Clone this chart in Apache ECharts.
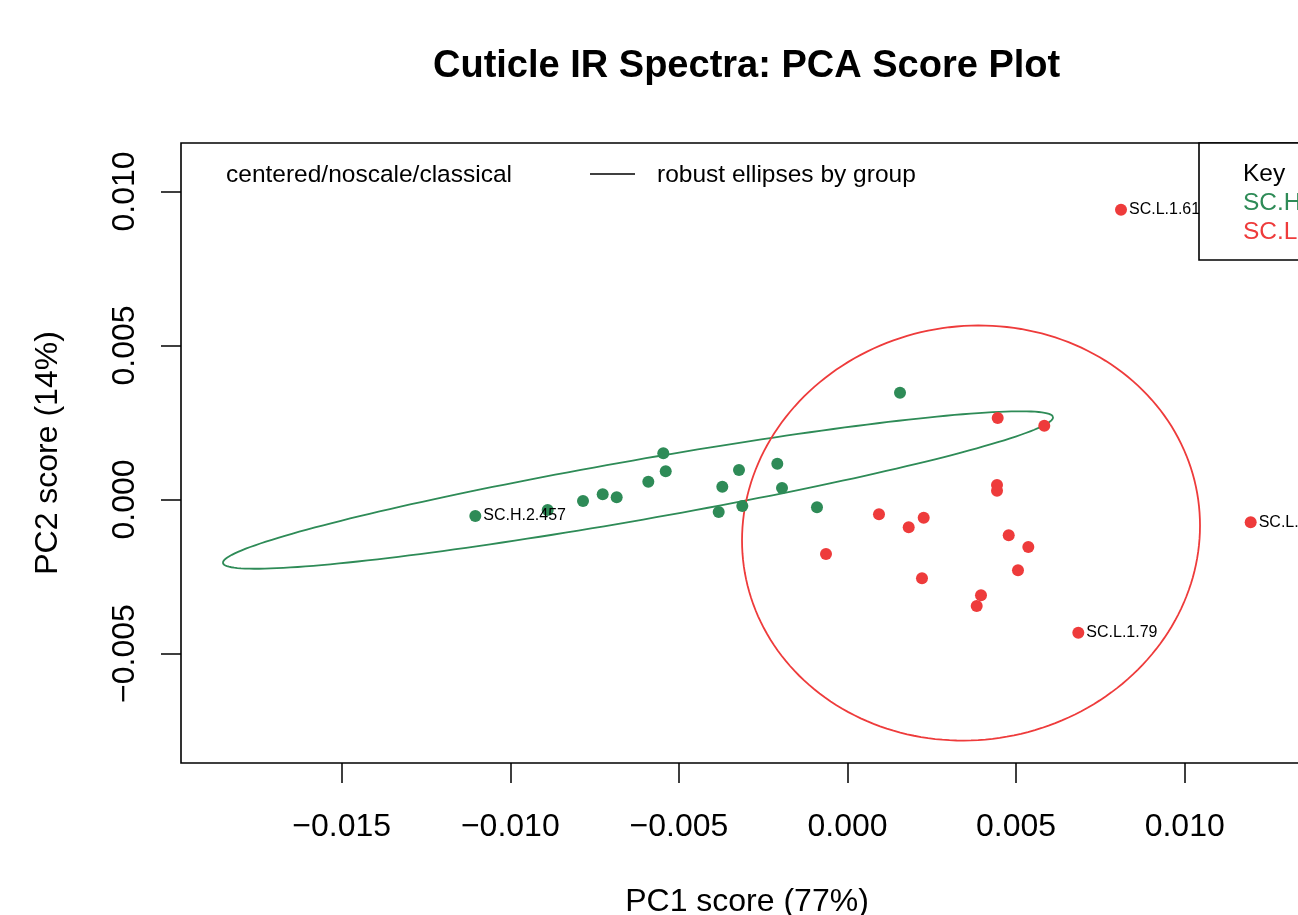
<!DOCTYPE html>
<html>
<head>
<meta charset="utf-8">
<title>Cuticle IR Spectra: PCA Score Plot</title>
<script src="https://cdn.jsdelivr.net/npm/echarts@6/dist/echarts.min.js"></script>
<style>
  html, body { margin: 0; padding: 0; background: #fff; }
  #chart { width: 1298px; height: 915px; }
</style>
</head>
<body>
<div id="chart"></div>
<script>
// group SC.H (green)
const shX = [0.001557, -0.005463, -0.005391, -0.002082, -0.003218, -0.005907, -0.003713, -0.001942,
  -0.007260, -0.006845, -0.007844, -0.008891, -0.011038, -0.003820, -0.003120, -0.000905]
const shY = [0.003468, 0.001500, 0.000916, 0.001162, 0.000958, 0.000578, 0.000416, 0.000373,
  0.000169, 0.000071, -0.000049, -0.000341, -0.000536, -0.000406, -0.000211, -0.000253]
const shNames = ['', '', '', '', '', '', '', '', '', '', '', '', 'SC.H.2.457', '', '', '']

// group SC.L (red)
const slX = [0.008111, 0.004454, 0.005836, 0.004434, 0.004434, 0.000934, 0.002260, 0.001815, -0.000638,
  0.004781, 0.005362, 0.005056, 0.002209, 0.003959, 0.003832, 0.006845, 0.011957]
const slY = [0.009409, 0.002646, 0.002396, 0.000471, 0.000286, -0.000481, -0.000591, -0.000903, -0.001769,
  -0.001162, -0.001542, -0.002299, -0.002558, -0.003110, -0.003458, -0.004325, -0.000740]
const slNames = ['SC.L.1.61', '', '', '', '', '', '', '', '', '', '', '', '', '', '', 'SC.L.1.79', 'SC.L.1.45']

// robust ellipses: [centerX, centerY, axis1X, axis1Y, axis2X, axis2Y]
const shEllipse = [-0.006213, 0.000308, 0.012307, 0.002370, 0.000154, -0.000958]
const slEllipse = [0.003663, -0.001088, 0.006791, 0.000241, 0, -0.006734]

const xTicks = [-0.015, -0.010, -0.005, 0.000, 0.005, 0.010]
const yTicks = [-0.005, 0.000, 0.005, 0.010]

const green = '#2E8B57'
const red = '#EE3B3B'
const font = '"Liberation Sans", Arial, Helvetica, sans-serif'

function fmt (v) {
  return v.toFixed(3).replace('-', '\u2212')
}

function points (xs, ys, names) {
  return xs.map((x, i) => ({
    value: [x, ys[i]],
    label: { show: names[i] !== '', formatter: names[i] }
  }))
}

function ellipseSeries (e, color) {
  return {
    type: 'custom',
    silent: true,
    data: [[e[0], e[1]]],
    renderItem: function (params, api) {
      const pts = []
      for (let i = 0; i <= 200; i++) {
        const t = i / 200 * Math.PI * 2
        pts.push(api.coord([
          e[0] + e[2] * Math.cos(t) + e[4] * Math.sin(t),
          e[1] + e[3] * Math.cos(t) + e[5] * Math.sin(t)
        ]))
      }
      return {
        type: 'polyline',
        shape: { points: pts },
        style: { stroke: color, fill: null, lineWidth: 1.8 }
      }
    },
    z: 1
  }
}

const chartObj = echarts.init(document.getElementById('chart'))

const option = {
  animation: false,
  backgroundColor: '#fff',
  textStyle: { fontFamily: font },
  title: {
    text: 'Cuticle IR Spectra: PCA Score Plot',
    left: 428,
    top: 43,
    textStyle: { fontSize: 38, fontWeight: 'bold', color: '#000', fontFamily: font }
  },
  grid: {
    left: 181,
    top: 143,
    width: 1132,
    height: 620,
    outerBoundsMode: 'none',
    containLabel: false,
    show: true,
    borderColor: '#000',
    borderWidth: 1.6,
    backgroundColor: 'transparent'
  },
  xAxis: {
    type: 'value',
    min: -0.019766,
    max: 0.013805,
    name: 'PC1 score (77%)',
    nameLocation: 'middle',
    nameGap: 123,
    nameTextStyle: { fontSize: 32, color: '#000', fontFamily: font },
    splitLine: { show: false },
    axisLine: { show: false, onZero: false },
    axisTick: { show: true, length: 20, customValues: xTicks, lineStyle: { color: '#000', width: 1.5 } },
    axisLabel: { customValues: xTicks, formatter: fmt, fontSize: 32, color: '#000', margin: 48, fontFamily: font }
  },
  yAxis: {
    type: 'value',
    min: -0.008555,
    max: 0.011575,
    name: 'PC2 score (14%)',
    nameLocation: 'middle',
    nameGap: 117,
    nameRotate: 90,
    nameTextStyle: { fontSize: 32, color: '#000', fontFamily: font },
    splitLine: { show: false },
    axisLine: { show: false, onZero: false },
    axisTick: { show: true, length: 20, customValues: yTicks, lineStyle: { color: '#000', width: 1.5 } },
    axisLabel: { customValues: yTicks, formatter: fmt, rotate: 90, fontSize: 32, color: '#000', margin: 40, fontFamily: font }
  },
  graphic: [
    {
      type: 'text', left: 226, top: 163,
      style: { text: 'centered/noscale/classical', fontSize: 24.5, fill: '#000', fontFamily: font }
    },
    {
      type: 'line',
      shape: { x1: 590, y1: 174, x2: 635, y2: 174 },
      style: { stroke: '#000', lineWidth: 1.5 }
    },
    {
      type: 'text', left: 657, top: 163,
      style: { text: 'robust ellipses by group', fontSize: 24.5, fill: '#000', fontFamily: font }
    },
    {
      type: 'rect',
      shape: { x: 1199, y: 143, width: 200, height: 117 },
      style: { fill: '#fff', stroke: '#000', lineWidth: 1.6 },
      z: 10
    },
    {
      type: 'text', x: 1243, y: 162, z: 11,
      style: { text: 'Key', fontSize: 24.5, fill: '#000', fontFamily: font }
    },
    {
      type: 'text', x: 1243, y: 191, z: 11,
      style: { text: 'SC.H', fontSize: 24.5, fill: green, fontFamily: font }
    },
    {
      type: 'text', x: 1243, y: 220, z: 11,
      style: { text: 'SC.L', fontSize: 24.5, fill: red, fontFamily: font }
    }
  ],
  series: [
    ellipseSeries(shEllipse, green),
    ellipseSeries(slEllipse, red),
    {
      name: 'SC.H',
      type: 'scatter',
      symbolSize: 12,
      itemStyle: { color: green, opacity: 1 },
      label: { position: 'right', distance: 2, fontSize: 16, color: '#000', fontFamily: font },
      data: points(shX, shY, shNames),
      z: 3
    },
    {
      name: 'SC.L',
      type: 'scatter',
      symbolSize: 12,
      itemStyle: { color: red, opacity: 1 },
      label: { position: 'right', distance: 2, fontSize: 16, color: '#000', fontFamily: font },
      data: points(slX, slY, slNames),
      z: 3
    }
  ]
}

chartObj.setOption(option)
</script>
</body>
</html>
